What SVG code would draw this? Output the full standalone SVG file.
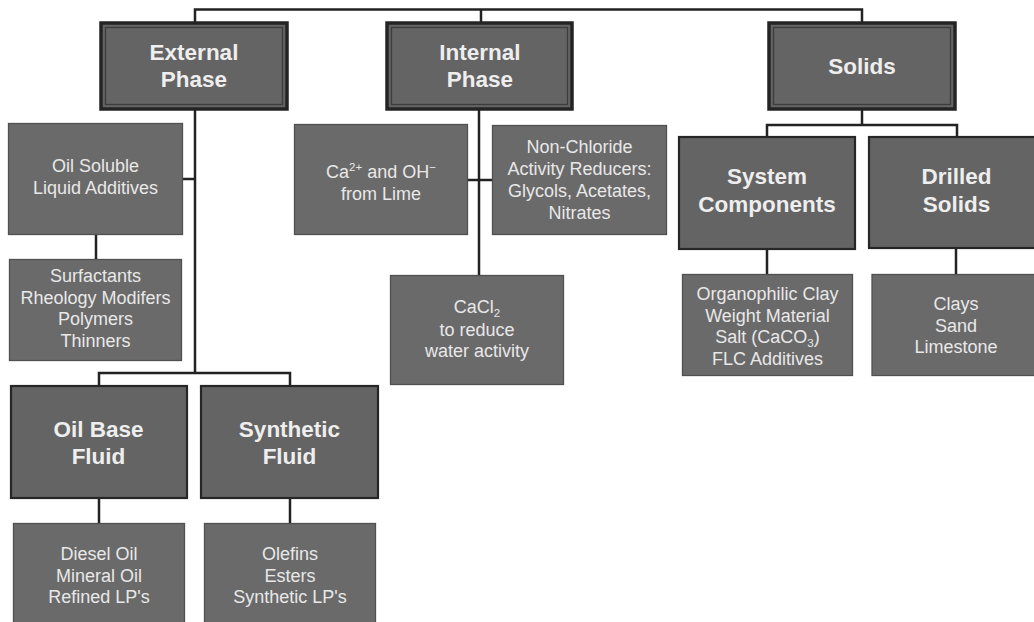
<svg xmlns="http://www.w3.org/2000/svg" width="1034" height="622" viewBox="0 0 1034 622">
<style>
.bg{fill:#ffffff}
.hd{fill:#646464;stroke:#242424;stroke-width:3.5}
.hdin{fill:none;stroke:#3c3c3c;stroke-width:1.3}
.mid{fill:#646464;stroke:#262626;stroke-width:2.2}
.leaf{fill:#6a6a6a;stroke:#505050;stroke-width:1.3}
.conn{fill:none;stroke:#222222;stroke-width:2.5}
.tb{font-family:"Liberation Sans",Arial,sans-serif;font-weight:bold;font-size:22.5px;fill:#eeeeee;text-anchor:middle}
.t{font-family:"Liberation Sans",Arial,sans-serif;font-size:18px;fill:#e8e8e8;text-anchor:middle}
.sub{font-size:11.5px}
</style>
<rect class="bg" x="0" y="0" width="1034" height="622"/>
<g id="connectors">
<path class="conn" d="M195,22 V9.5 H862 V22"/>
<path class="conn" d="M481,9.5 V22"/>
<path class="conn" d="M195,110 V373"/>
<path class="conn" d="M183,179 H195"/>
<path class="conn" d="M96,235 V259"/>
<path class="conn" d="M99,386 V373 H290 V386"/>
<path class="conn" d="M99,498 V523"/>
<path class="conn" d="M290,498 V523"/>
<path class="conn" d="M479,110 V275"/>
<path class="conn" d="M468,180 H492"/>
<path class="conn" d="M862,110 V125"/>
<path class="conn" d="M767,137 V125 H957 V137"/>
<path class="conn" d="M767,249 V274"/>
<path class="conn" d="M956,249 V274"/>
</g>
<g id="external-phase">
<rect class="hd" x="101" y="23" width="186" height="86"/>
<rect class="hdin" x="105.5" y="27.5" width="177" height="77"/>
<text class="tb" x="194" y="60">External</text>
<text class="tb" x="194" y="87">Phase</text>
</g>
<g id="internal-phase">
<rect class="hd" x="387" y="23" width="185" height="86"/>
<rect class="hdin" x="391.5" y="27.5" width="176" height="77"/>
<text class="tb" x="480" y="60">Internal</text>
<text class="tb" x="480" y="87">Phase</text>
</g>
<g id="solids">
<rect class="hd" x="769" y="23" width="186" height="86"/>
<rect class="hdin" x="773.5" y="27.5" width="177" height="77"/>
<text class="tb" x="862" y="74">Solids</text>
</g>
<g id="oil-soluble">
<rect class="leaf" x="8.5" y="123.5" width="174" height="111"/>
<text class="t" x="95.5" y="172">Oil Soluble</text>
<text class="t" x="95.5" y="193.5">Liquid Additives</text>
</g>
<g id="surfactants">
<rect class="leaf" x="9.5" y="259.5" width="172" height="101"/>
<text class="t" x="95.5" y="282">Surfactants</text>
<text class="t" x="95.5" y="303.5">Rheology Modifers</text>
<text class="t" x="95.5" y="325">Polymers</text>
<text class="t" x="95.5" y="346.5">Thinners</text>
</g>
<g id="oil-base-fluid">
<rect class="mid" x="11" y="386" width="176" height="112"/>
<text class="tb" x="98.5" y="437">Oil Base</text>
<text class="tb" x="98.5" y="464">Fluid</text>
</g>
<g id="synthetic-fluid">
<rect class="mid" x="201" y="386" width="177" height="112"/>
<text class="tb" x="289.5" y="437">Synthetic</text>
<text class="tb" x="289.5" y="464">Fluid</text>
</g>
<g id="diesel">
<rect class="leaf" x="13.5" y="523.5" width="171" height="110"/>
<text class="t" x="99" y="560">Diesel Oil</text>
<text class="t" x="99" y="581.5">Mineral Oil</text>
<text class="t" x="99" y="603">Refined LP's</text>
</g>
<g id="olefins">
<rect class="leaf" x="204.5" y="523.5" width="171" height="110"/>
<text class="t" x="290" y="560">Olefins</text>
<text class="t" x="290" y="581.5">Esters</text>
<text class="t" x="290" y="603">Synthetic LP's</text>
</g>
<g id="lime">
<rect class="leaf" x="294.5" y="124.5" width="173" height="110"/>
<text class="t" x="381" y="178">Ca<tspan class="sub" dy="-7">2+</tspan><tspan dy="7"> and OH</tspan><tspan class="sub" dy="-7">−</tspan></text>
<text class="t" x="381" y="200">from Lime</text>
</g>
<g id="non-chloride">
<rect class="leaf" x="492.5" y="125.5" width="174" height="109"/>
<text class="t" x="579.5" y="153">Non-Chloride</text>
<text class="t" x="579.5" y="175">Activity Reducers:</text>
<text class="t" x="579.5" y="197">Glycols, Acetates,</text>
<text class="t" x="579.5" y="218.5">Nitrates</text>
</g>
<g id="cacl2">
<rect class="leaf" x="390.5" y="275.5" width="173" height="109"/>
<text class="t" x="477" y="313">CaCl<tspan class="sub" dy="4">2</tspan></text>
<text class="t" x="477" y="335.5">to reduce</text>
<text class="t" x="477" y="357">water activity</text>
</g>
<g id="system-components">
<rect class="mid" x="679" y="137" width="176" height="112"/>
<text class="tb" x="767" y="184">System</text>
<text class="tb" x="767" y="212">Components</text>
</g>
<g id="drilled-solids">
<rect class="mid" x="869" y="137" width="180" height="111"/>
<text class="tb" x="956.5" y="184">Drilled</text>
<text class="tb" x="956.5" y="212">Solids</text>
</g>
<g id="organophilic">
<rect class="leaf" x="682.5" y="274.5" width="170" height="101"/>
<text class="t" x="767.5" y="300">Organophilic Clay</text>
<text class="t" x="767.5" y="321.5">Weight Material</text>
<text class="t" x="767.5" y="342.5">Salt (CaCO<tspan class="sub" dy="4">3</tspan><tspan dy="-4">)</tspan></text>
<text class="t" x="767.5" y="364.5">FLC Additives</text>
</g>
<g id="clays">
<rect class="leaf" x="872" y="274.5" width="176" height="101"/>
<text class="t" x="956" y="310">Clays</text>
<text class="t" x="956" y="331.5">Sand</text>
<text class="t" x="956" y="353">Limestone</text>
</g>
</svg>
